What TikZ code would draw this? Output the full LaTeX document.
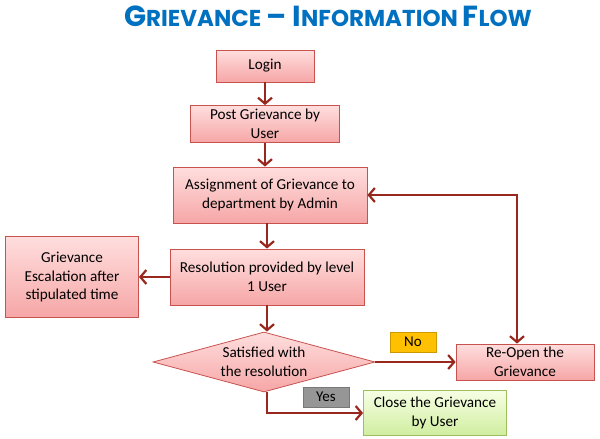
\documentclass[tikz,border=0pt]{standalone}
\usepackage{fontspec}
\setmainfont{Carlito}
\newfontfamily\titlefont{Poppins}
\usepackage{xcolor}
\usetikzlibrary{arrows.meta,shapes.geometric}

\definecolor{titleblue}{RGB}{0,112,192}
\definecolor{flowred}{RGB}{152,40,30}
\definecolor{pinktop}{RGB}{255,222,222}
\definecolor{pinkbot}{RGB}{246,166,166}
\definecolor{pinkline}{RGB}{200,82,78}
\definecolor{greentop}{RGB}{246,255,228}
\definecolor{greenbot}{RGB}{208,238,160}
\definecolor{greenline}{RGB}{158,190,92}
\definecolor{noorange}{RGB}{255,192,0}
\definecolor{yesgrey}{RGB}{150,150,150}

\tikzset{
  stepbox/.style={
    draw=pinkline, rectangle, line width=0.8pt,
    top color=pinktop, bottom color=pinkbot,
    align=center, inner sep=0pt,
    font=\fontsize{15.2}{18.5}\selectfont
  },
  closebox/.style={
    stepbox, draw=greenline,
    top color=greentop, bottom color=greenbot
  },
  barb/.tip={Straight Barb[length=6pt,width=14pt,line width=2.2pt]},
  flow/.style={
    draw=flowred, line width=2.6pt, -{barb}
  },
  tag/.style={
    rectangle, inner sep=0pt,
    minimum width=46pt, minimum height=20pt,
    font=\fontsize{15}{16}\selectfont
  }
}

\begin{document}
\begin{tikzpicture}[x=1pt,y=-1pt]

\useasboundingbox (0,0) rectangle (600,439);

% Title
\node[text=titleblue, font=\titlefont\bfseries] (title) at (328,16)
{\fontsize{29}{30}\selectfont G\fontsize{23}{30}\selectfont RIEVANCE
 \fontsize{29}{30}\selectfont \textendash{} I\fontsize{23}{30}\selectfont NFORMATION
 \fontsize{29}{30}\selectfont F\fontsize{23}{30}\selectfont LOW};

% Nodes
\node[stepbox, minimum width=98pt, minimum height=32pt] (login) at (265,66)
{Login};

\node[stepbox, minimum width=149pt, minimum height=37pt] (post) at (265,124)
{Post Grievance by\\ User};

\node[stepbox, minimum width=194pt, minimum height=56pt] (assign) at (270,195)
{Assignment of Grievance to\\ department by Admin};

\node[stepbox, minimum width=194pt, minimum height=56pt] (resolve) at (267,277)
{Resolution provided by level\\ 1 User};

\node[stepbox, minimum width=133pt, minimum height=81pt] (escalate) at (72,277)
{Grievance\\ Escalation after\\ stipulated time};

\node[stepbox, diamond, aspect=3.7, minimum width=222pt, minimum height=60pt] (satisfied) at (264,362)
{Satisfied with\\ the resolution};

\node[stepbox, minimum width=138pt, minimum height=36pt] (reopen) at (525,362)
{Re-Open the\\ Grievance};

\node[closebox, minimum width=143pt, minimum height=45pt] (close) at (435,413)
{Close the Grievance\\ by User};

% Answer tags
\node[tag, fill=noorange, draw=noorange!80!black, line width=0.4pt] (no) at (413,342) {No};
\node[tag, fill=yesgrey, draw=yesgrey!80!black, line width=0.4pt] (yes) at (326,397) {Yes};

% Arrows between boxes
\draw[flow] (login) -- (post);
\draw[flow] (post) -- (post |- assign.north);
\draw[flow] (resolve |- assign.south) -- (resolve);
\draw[flow] (resolve) -- (escalate);
\draw[flow] (resolve) -- (resolve |- satisfied.north);
\draw[flow] (satisfied) -- (reopen);
\draw[flow] (resolve |- satisfied.south) |- (close.west);

% Re-open loop back to assignment
\draw[flow, {barb}-{barb}]
  ([xshift=-8pt]reopen.north) |- (assign.east);

\end{tikzpicture}
\end{document}
